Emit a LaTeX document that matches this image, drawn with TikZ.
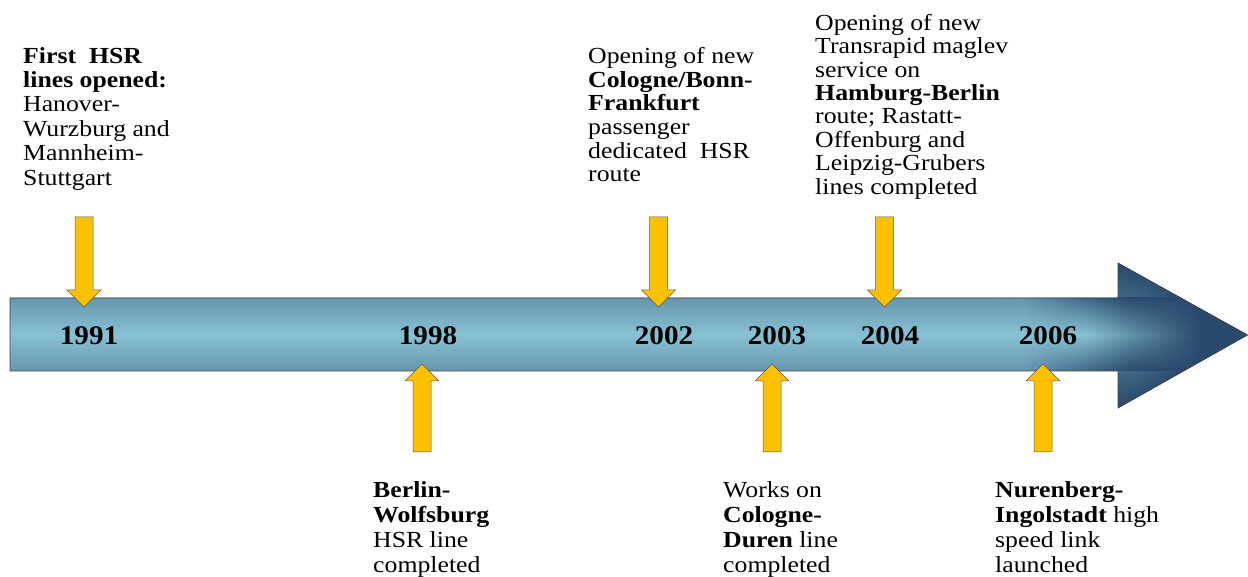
\documentclass[tikz,border=0pt]{standalone}
\usepackage{fontspec}
\setmainfont{Liberation Serif}[FakeStretch=1.12]
\newfontfamily\yrfont{Liberation Serif}[FakeStretch=1.08]
\definecolor{shaftedge}{HTML}{6696AF}
\definecolor{shaftmid}{HTML}{88C1D3}
\definecolor{navy}{HTML}{294A6C}
\definecolor{gold}{HTML}{FFC000}
\tikzset{
  txt/.style={anchor=north west, inner sep=0pt, align=left, text=black},
  yr/.style={anchor=base, inner sep=0pt, font=\yrfont\fontsize{27}{27}\selectfont\bfseries},
  yarrow/.style={fill=gold, draw=black!65, line width=0.5pt, line join=miter},
  pics/downarr/.style={code={\path[yarrow] (-9,90) -- (9,90) -- (9,17) -- (17,17) -- (0,0) -- (-17,17) -- (-9,17) -- cycle;}},
  pics/uparr/.style={code={\path[yarrow] (-9,-88) -- (9,-88) -- (9,-17) -- (17,-17) -- (0,0) -- (-17,-17) -- (-9,-17) -- cycle;}}
}
\begin{document}
\begin{tikzpicture}[x=1pt,y=1pt]
\useasboundingbox (0,0) rectangle (1248,577);
% big timeline arrow
\begin{scope}
  \clip (10,279) -- (1118,279) -- (1118,314) -- (1247.5,242) -- (1118,169) -- (1118,206) -- (10,206) -- cycle;
  \fill[navy] (0,160) rectangle (1248,320);
  \shade[inner color=navy!45!shaftmid, outer color=navy] (1112,242) ellipse [x radius=80, y radius=70];
  \shade[top color=shaftedge, bottom color=shaftedge, middle color=shaftmid] (10,206) rectangle (1001,279);
  \foreach \x in {1000,1002,...,1246} {
    \pgfmathsetmacro\te{max(0,min(100,(\x-1020)/1.1))}
    \pgfmathsetmacro\tm{max(0,min(100,(\x-1085)/1.15))}
    \colorlet{cedge}{navy!\te!shaftedge}
    \colorlet{cmid}{navy!\tm!shaftmid}
    \shade[top color=cedge, bottom color=cedge, middle color=cmid] (\x,206) rectangle (\x+2.4,279);
  }
\end{scope}
\draw[black!75, line width=0.7pt, line join=miter] (10,279) -- (1118,279) -- (1118,314) -- (1247.5,242) -- (1118,169) -- (1118,206) -- (10,206) -- cycle;
% years
\node[yr] (y1991) at (89,232) {1991};
\node[yr] (y1998) at (428,232) {1998};
\node[yr] (y2002) at (664,232) {2002};
\node[yr] (y2003) at (777,232) {2003};
\node[yr] (y2004) at (890,232) {2004};
\node[yr] (y2006) at (1048,232) {2006};
% yellow arrows
\pic at (84,270) {downarr};
\pic at (658.5,270) {downarr};
\pic at (884.5,270) {downarr};
\pic at (422,213) {uparr};
\pic at (772,213) {uparr};
\pic at (1043,213) {uparr};
% texts
\node[txt, font=\fontsize{23}{24.4}\selectfont] (t1991) at (23,530)
  {\textbf{First\ \ HSR}\\\textbf{lines opened:}\\Hanover-\\Wurzburg and\\Mannheim-\\Stuttgart};
\node[txt, font=\fontsize{23}{23.7}\selectfont] (t2002) at (588,530)
  {Opening of new\\\textbf{Cologne/Bonn-}\\\textbf{Frankfurt}\\passenger\\dedicated\ \ HSR\\route};
\node[txt, font=\fontsize{23}{23.4}\selectfont] (t2004) at (815,563)
  {Opening of new\\Transrapid maglev\\service on\\\textbf{Hamburg-Berlin}\\route; Rastatt-\\Offenburg and\\Leipzig-Grubers\\lines completed};
\node[txt, font=\fontsize{23}{25}\selectfont] (t1998) at (373,96)
  {\textbf{Berlin-}\\\textbf{Wolfsburg}\\HSR line\\completed};
\node[txt, font=\fontsize{23}{25}\selectfont] (t2003) at (723,96)
  {Works on\\\textbf{Cologne-}\\\textbf{Duren} line\\completed};
\node[txt, font=\fontsize{23}{25}\selectfont] (t2006) at (995,96)
  {\textbf{Nurenberg-}\\\textbf{Ingolstadt} high\\speed link\\launched};
\end{tikzpicture}
\end{document}
